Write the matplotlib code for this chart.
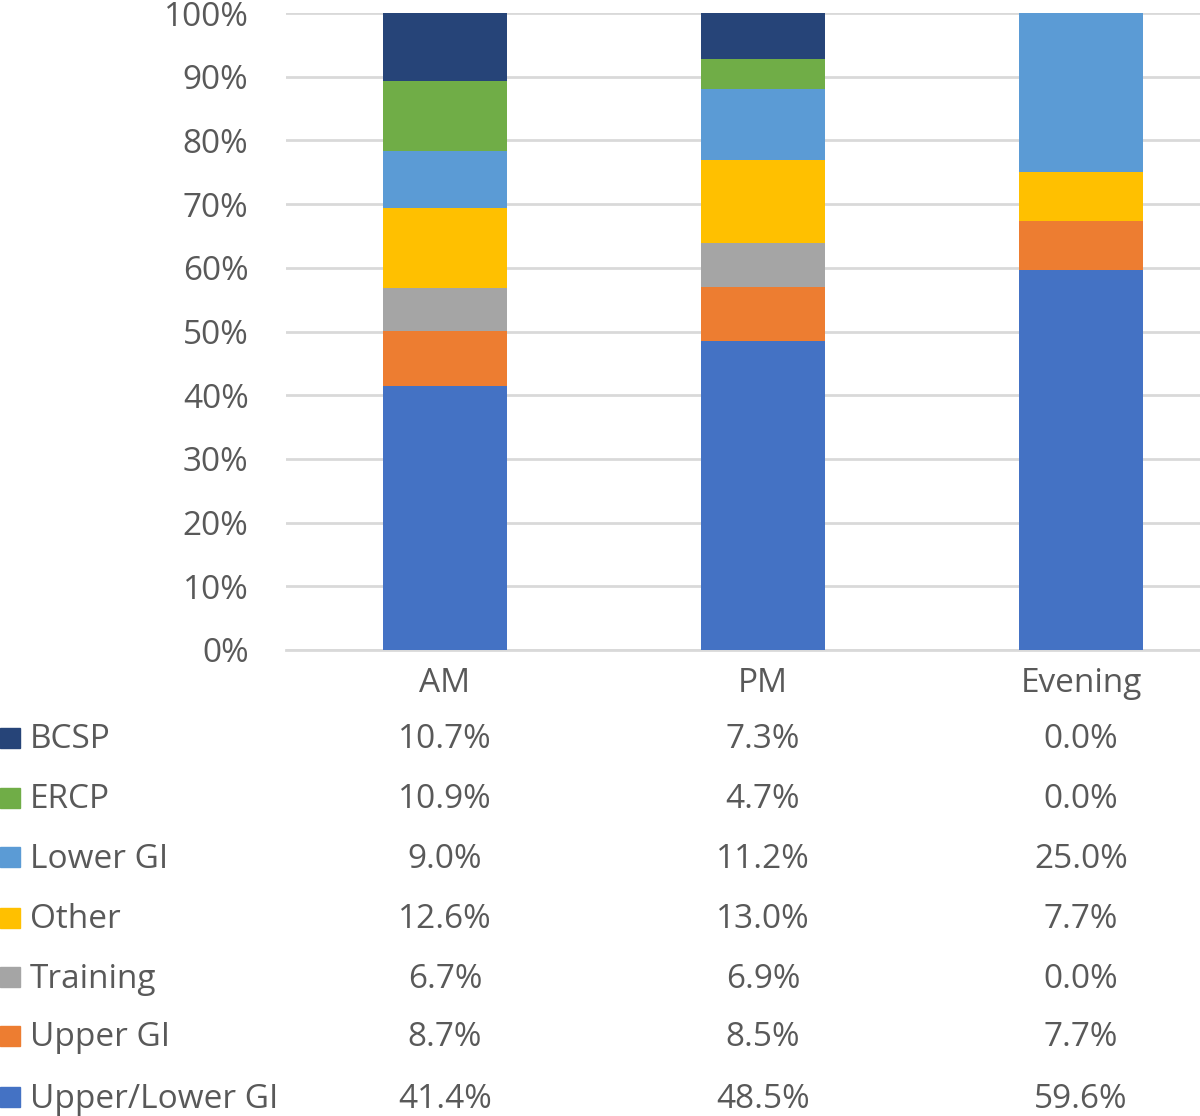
import matplotlib
matplotlib.use("Agg")
import matplotlib.pyplot as plt
from matplotlib.transforms import blended_transform_factory
import numpy as np

categories = ["AM", "PM", "Evening"]
series_names = ["Upper/Lower GI", "Upper GI", "Training", "Other", "Lower GI", "ERCP", "BCSP"]
upper_lower_gi = [41.4, 48.5, 59.6]
upper_gi = [8.7, 8.5, 7.7]
training = [6.7, 6.9, 0.0]
other = [12.6, 13.0, 7.7]
lower_gi = [9.0, 11.2, 25.0]
ercp = [10.9, 4.7, 0.0]
bcsp = [10.7, 7.3, 0.0]
series_values = [upper_lower_gi, upper_gi, training, other, lower_gi, ercp, bcsp]
colors = ["#4472C4", "#ED7D31", "#A5A5A5", "#FFC000", "#5B9BD5", "#70AD47", "#264478"]
yticks = [0, 10, 20, 30, 40, 50, 60, 70, 80, 90, 100]

W, H = 1200, 1116
fig = plt.figure(figsize=(W / 100, H / 100), dpi=100)
plt.rcParams['font.family'] = ['Open Sans', 'DejaVu Sans']
txt_color = "#595959"
fs = 24

ax = fig.add_axes([286 / W, 1 - 650 / H, (1200 - 286) / W, (650 - 13) / H])
x = np.arange(len(categories))
bottom = np.zeros(len(categories))
for vals, col in zip(series_values, colors):
    v = np.array(vals)
    ax.bar(x, v, bottom=bottom, width=0.39, color=col, zorder=3)
    bottom += v

ax.set_xlim(-0.5, -0.5 + 914 / 318)
ax.set_ylim(0, 100)
ax.set_yticks(yticks)
ax.set_yticklabels([f"{t}%" for t in yticks], fontsize=fs, color=txt_color)
ax.tick_params(axis='y', length=0, pad=27)
ax.tick_params(axis='x', length=0, labelbottom=False)
ax.grid(axis='y', color="#D9D9D9", linewidth=2, zorder=0)
for s in ["top", "right", "left"]:
    ax.spines[s].set_visible(False)
ax.spines["bottom"].set_color("#D9D9D9")
ax.spines["bottom"].set_linewidth(2)

tr = blended_transform_factory(ax.transData, fig.transFigure)
for i, c in enumerate(categories):
    ax.text(i, 1 - 684 / H, c, transform=tr, ha="center", va="center",
            fontsize=fs, color=txt_color, clip_on=False)

row_y = [1099, 1038, 979, 920, 859, 800, 740]
for name, vals, col, ry in zip(series_names, series_values, colors, row_y):
    yf = 1 - ry / H
    fig.patches.append(plt.Rectangle((0, 1 - (ry + 8) / H), 20 / W, 20 / H,
                                     transform=fig.transFigure, color=col, figure=fig))
    fig.text(30 / W, yf, name, ha="left", va="center", fontsize=fs, color=txt_color)
    for i, v in enumerate(vals):
        ax.text(i, yf, f"{v:.1f}%", transform=tr, ha="center", va="center",
                fontsize=fs, color=txt_color, clip_on=False)

fig.savefig("out.png", dpi=100)
